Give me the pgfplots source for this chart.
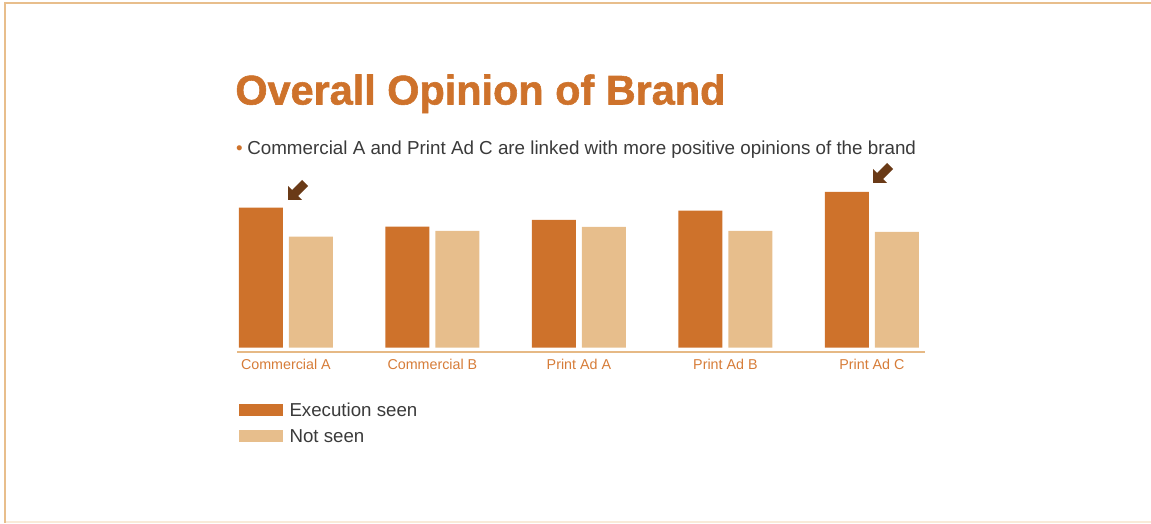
\documentclass[border=0pt]{standalone}
\usepackage{fontspec}
\setmainfont{Liberation Sans}
\newfontfamily\titlefont{Liberation Sans}[BoldFeatures={FakeBold=1.4}]
\usepackage{pgfplots}
\pgfplotsset{compat=1.18}
\definecolor{execc}{HTML}{CE722B}
\definecolor{notc}{HTML}{E7BE8C}
\definecolor{axisc}{HTML}{E6B985}
\definecolor{tickc}{HTML}{D67C38}
\definecolor{arrowc}{HTML}{6A3A17}
\definecolor{textc}{HTML}{3A3A3A}
\definecolor{framec}{HTML}{E8BE8C}
\definecolor{framel}{HTML}{F9EBD9}
\begin{document}
\begin{tikzpicture}[x=1pt,y=1pt]
\useasboundingbox (0,0) rectangle (1151,523);
% frame
\draw[framel, line width=1.5pt] (6,1) -- (1151,1);
\draw[framec, line width=2pt] (5,0) -- (5,520) -- (1151,520);
% title and subtitle
\node[anchor=base west, inner sep=0pt, text=execc] at (235.2,418.5)
  {\titlefont\bfseries\fontsize{41.4}{44}\selectfont Overall Opinion of Brand};
\node[anchor=base, inner sep=0pt, text=execc] at (239.5,368)
  {\fontsize{18.8}{20}\selectfont\textbullet};
\node[anchor=base west, inner sep=0pt, text=textc] at (247.1,368)
  {\fontsize{18.8}{20}\selectfont Commercial A and Print Ad C are linked with more positive opinions of the brand};
\begin{axis}[
  at={(212.65pt,175.3pt)}, anchor=south west,
  x=146.5pt, y=2pt,
  xmin=-0.5, xmax=4.5, ymin=0, ymax=100,
  ybar, bar width=44pt,
  axis line style={draw=none},
  major tick length=0pt,
  ytick=\empty,
  xtick={0,1,2,3,4},
  xticklabels={Commercial A, Commercial B, Print Ad A, Print Ad B, Print Ad C},
  xticklabel style={anchor=base, inner sep=0pt, yshift=-21.3pt, text=tickc,
    font=\fontsize{14.3}{16}\selectfont},
  clip=false,
  legend cell align=left,
  legend image code/.code={\fill[#1] (0pt,-6pt) rectangle (44pt,6pt);},
  legend style={at={(axis description cs:0.036,-0.278)}, anchor=north west,
    draw=none, fill=none, inner sep=0pt, outer sep=0pt,
    row sep=12.6pt, column sep=6.5pt,
    nodes={inner sep=0pt, outer sep=0pt, text height=13.4pt, text depth=0pt},
    font=\fontsize{18.7}{20}\selectfont, text=textc},
]
\addplot[fill=execc, draw=none, bar shift=-25pt] coordinates
  {(0,70.0) (1,60.5) (2,63.9) (3,68.5) (4,77.9)};
\addlegendentry{Execution seen}
\addplot[fill=notc, draw=none, bar shift=25pt] coordinates
  {(0,55.5) (1,58.4) (2,60.4) (3,58.4) (4,57.9)};
\addlegendentry{Not seen}
\end{axis}
% baseline
\draw[axisc, line width=2pt] (237,171.5) -- (925,171.5);
% arrows
\foreach \ax/\ay in {288/323, 873/340}{
  \fill[arrowc] (\ax,\ay) -- ++(14,0) -- ++(-4,4) -- ++(10,10) -- ++(-6,6)
    -- ++(-10,-10) -- ++(-4,4) -- cycle;
}
\end{tikzpicture}
\end{document}
